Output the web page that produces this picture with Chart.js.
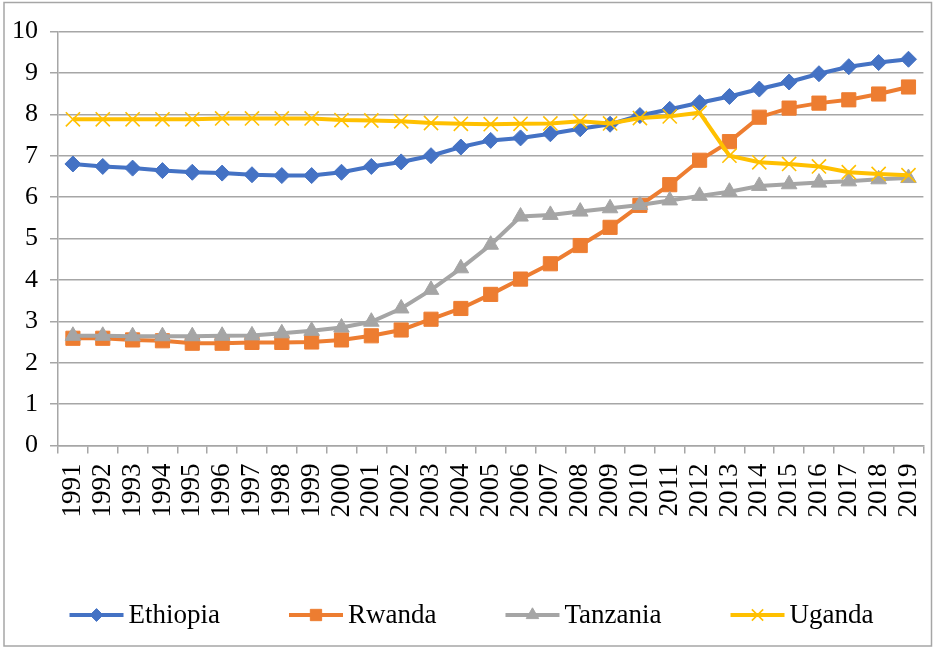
<!DOCTYPE html>
<html>
<head>
<meta charset="utf-8">
<script src="https://cdn.jsdelivr.net/npm/chart.js@4/dist/chart.umd.min.js"></script>
<style>
  html, body { margin: 0; padding: 0; background: #ffffff; }
  #wrap { width: 935px; height: 648px; position: relative; }
</style>
</head>
<body>
<div id="wrap"><canvas id="c" width="935" height="648"></canvas></div>
<script>
const years = ['1991','1992','1993','1994','1995','1996','1997','1998','1999','2000',
  '2001','2002','2003','2004','2005','2006','2007','2008','2009','2010',
  '2011','2012','2013','2014','2015','2016','2017','2018','2019'];

const ethiopia = [6.80,6.74,6.70,6.64,6.60,6.58,6.54,6.52,6.52,6.60,
  6.74,6.85,7.00,7.21,7.37,7.43,7.53,7.65,7.76,7.97,
  8.12,8.28,8.43,8.61,8.78,8.98,9.15,9.25,9.33];

const rwanda = [2.59,2.59,2.55,2.53,2.47,2.47,2.49,2.49,2.50,2.55,
  2.65,2.79,3.05,3.31,3.65,4.02,4.39,4.83,5.27,5.80,
  6.30,6.89,7.34,7.93,8.15,8.27,8.35,8.49,8.66];

const tanzania = [2.65,2.65,2.64,2.64,2.64,2.65,2.66,2.71,2.77,2.85,
  2.99,3.31,3.76,4.28,4.85,5.53,5.57,5.65,5.73,5.81,
  5.92,6.03,6.13,6.27,6.31,6.35,6.38,6.43,6.46];

const uganda = [7.88,7.88,7.88,7.88,7.88,7.90,7.90,7.90,7.90,7.86,
  7.85,7.83,7.79,7.77,7.76,7.77,7.78,7.83,7.78,7.91,
  7.95,8.04,7.00,6.84,6.80,6.74,6.60,6.56,6.53];

const seriesNames = ['Ethiopia','Rwanda','Tanzania','Uganda'];
const seriesColors = ['#4472C4','#ED7D31','#A5A5A5','#FFC000'];
const yTicks = [0,1,2,3,4,5,6,7,8,9,10];

const FONT = "'Liberation Serif', 'Times New Roman', serif";

const styles = [
  { pointStyle: 'rectRot', pointRadius: 8, pointBorderWidth: 1 },
  { pointStyle: 'rect', pointRadius: 10, pointBorderWidth: 1 },
  { pointStyle: 'triangle', pointRadius: 9, pointBorderWidth: 1 },
  { pointStyle: 'crossRot', pointRadius: 10, pointBorderWidth: 1.6 }
];

const allData = [ethiopia, rwanda, tanzania, uganda];
const datasets = allData.map((d, i) => ({
  label: seriesNames[i],
  data: d,
  borderColor: seriesColors[i],
  backgroundColor: seriesColors[i],
  pointBackgroundColor: seriesColors[i],
  pointBorderColor: seriesColors[i],
  borderWidth: 4,
  pointStyle: styles[i].pointStyle,
  pointRadius: styles[i].pointRadius,
  pointBorderWidth: styles[i].pointBorderWidth,
  pointHoverRadius: styles[i].pointRadius,
  tension: 0,
  order: 4 - i
}));

const CHART_LEFT = 58;
const CHART_BOTTOM = 445.5;

const legendPlugin = {
  id: 'customLegend',
  afterDraw(chart) {
    const ctx = chart.ctx;
    ctx.save();
    ctx.font = '27px ' + FONT;
    const lineW = 54, gapText = 5, gapItem = 69;
    const widths = seriesNames.map(n => ctx.measureText(n).width);
    let total = 0;
    widths.forEach(w => total += lineW + gapText + w);
    total += gapItem * (seriesNames.length - 1);
    let x = (chart.width - total) / 2 + 4;
    const y = 615;
    seriesNames.forEach((name, i) => {
      ctx.strokeStyle = seriesColors[i];
      ctx.lineWidth = 4;
      ctx.beginPath();
      ctx.moveTo(x, y);
      ctx.lineTo(x + lineW, y);
      ctx.stroke();
      const st = styles[i];
      ctx.fillStyle = seriesColors[i];
      ctx.strokeStyle = seriesColors[i];
      ctx.lineWidth = st.pointBorderWidth;
      Chart.helpers.drawPoint(ctx, {
        pointStyle: st.pointStyle,
        radius: st.pointRadius * 0.8,
        rotation: 0,
        borderWidth: st.pointBorderWidth
      }, x + lineW / 2, y);
      ctx.fillStyle = '#000000';
      ctx.textBaseline = 'middle';
      ctx.textAlign = 'left';
      ctx.fillText(name, x + lineW + gapText, y + 1);
      x += lineW + gapText + widths[i] + gapItem;
    });
    // outer border
    ctx.strokeStyle = '#a6a6a6';
    ctx.lineWidth = 1.5;
    ctx.strokeRect(4, 2.5, 927.5, 643.5);
    ctx.restore();
  }
};

const bgPlugin = {
  id: 'bg',
  beforeDraw(chart) {
    const ctx = chart.ctx;
    ctx.save();
    ctx.fillStyle = '#ffffff';
    ctx.fillRect(0, 0, chart.width, chart.height);
    ctx.restore();
  }
};

new Chart(document.getElementById('c'), {
  type: 'line',
  data: { labels: years, datasets: datasets },
  options: {
    responsive: false,
    animation: false,
    devicePixelRatio: 1,
    layout: { padding: { top: 31.5, right: 5, left: 0, bottom: 0 } },
    plugins: {
      legend: { display: false },
      tooltip: { enabled: false }
    },
    scales: {
      x: {
        type: 'category',
        offset: true,
        grid: {
          offset: true,
          drawOnChartArea: false,
          drawTicks: true,
          tickLength: 8,
          color: '#a6a6a6',
          lineWidth: 1.5
        },
        border: { display: true, color: '#a6a6a6', width: 1.5 },
        ticks: {
          autoSkip: false,
          minRotation: 90,
          maxRotation: 90,
          padding: 10,
          color: '#000000',
          font: { family: FONT, size: 27 }
        },
        afterFit(scale) {
          scale.height = 648 - CHART_BOTTOM;
          scale.paddingLeft = 0;
          scale.paddingRight = 0;
        }
      },
      y: {
        min: 0,
        max: 10,
        afterBuildTicks(scale) { scale.ticks = yTicks.map(v => ({ value: v })); },
        grid: {
          color: '#a6a6a6',
          lineWidth: 1.5,
          drawTicks: true,
          tickLength: 8
        },
        border: { display: true, color: '#a6a6a6', width: 1.5 },
        ticks: {
          padding: 12,
          color: '#000000',
          font: { family: FONT, size: 26 }
        },
        afterFit(scale) { scale.width = CHART_LEFT; }
      }
    }
  },
  plugins: [bgPlugin, legendPlugin]
});
</script>
</body>
</html>
